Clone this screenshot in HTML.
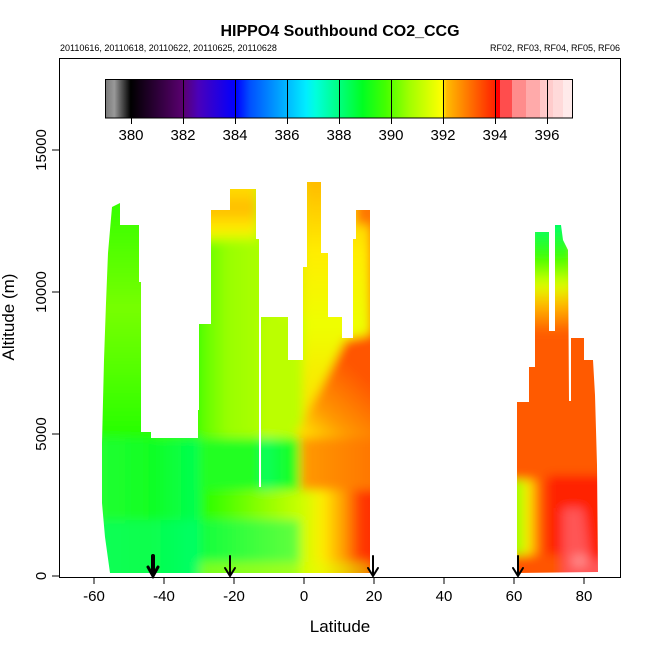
<!DOCTYPE html>
<html><head><meta charset="utf-8"><style>body{margin:0;background:#fff}svg{display:block}</style></head>
<body>
<svg width="650" height="650" viewBox="0 0 650 650" xmlns="http://www.w3.org/2000/svg" font-family="Liberation Sans, sans-serif">
<defs>
<filter id="bl5" x="-10%" y="-10%" width="120%" height="120%"><feGaussianBlur stdDeviation="5"/></filter>
<linearGradient id="base" x1="100" x2="370" y1="0" y2="0" gradientUnits="userSpaceOnUse">
<stop offset="0" stop-color="#44ff00"/><stop offset="0.4" stop-color="#33ff00"/><stop offset="0.55" stop-color="#99ff00"/><stop offset="0.7" stop-color="#ccff00"/><stop offset="0.8" stop-color="#ffcc00"/><stop offset="0.9" stop-color="#ff8800"/><stop offset="1" stop-color="#ff5500"/></linearGradient>
<linearGradient id="lcol" x1="0" x2="0" y1="200" y2="440" gradientUnits="userSpaceOnUse">
<stop offset="0" stop-color="#33ff00"/><stop offset="0.45" stop-color="#77ff00"/><stop offset="0.7" stop-color="#55ff00"/><stop offset="1" stop-color="#22ff00"/></linearGradient>
<linearGradient id="bl" x1="100" x2="300" y1="0" y2="0" gradientUnits="userSpaceOnUse">
<stop offset="0" stop-color="#22ff33"/><stop offset="0.25" stop-color="#11ff22"/><stop offset="0.5" stop-color="#00ff55"/><stop offset="0.8" stop-color="#00ff66"/><stop offset="1" stop-color="#22ff11"/></linearGradient>
<linearGradient id="mid" x1="199" x2="256" y1="0" y2="0" gradientUnits="userSpaceOnUse">
<stop offset="0" stop-color="#55ff00"/><stop offset="0.5" stop-color="#99ff00"/><stop offset="1" stop-color="#aaff00"/></linearGradient>
<linearGradient id="midtop" x1="0" x2="0" y1="188" y2="240" gradientUnits="userSpaceOnUse">
<stop offset="0" stop-color="#ffdd00"/><stop offset="0.4" stop-color="#ffbb00"/><stop offset="0.8" stop-color="#ffee00"/><stop offset="1" stop-color="#ccff00"/></linearGradient>
<linearGradient id="yel" x1="0" x2="0" y1="182" y2="420" gradientUnits="userSpaceOnUse">
<stop offset="0" stop-color="#ffbb00"/><stop offset="0.3" stop-color="#ffee00"/><stop offset="0.6" stop-color="#eeff00"/><stop offset="1" stop-color="#ffdd00"/></linearGradient>
<linearGradient id="orng" x1="290" x2="345" y1="420" y2="360" gradientUnits="userSpaceOnUse">
<stop offset="0" stop-color="#ffdd00"/><stop offset="0.35" stop-color="#ff9900"/><stop offset="1" stop-color="#ff5500"/></linearGradient>
<linearGradient id="row" x1="260" x2="370" y1="0" y2="0" gradientUnits="userSpaceOnUse">
<stop offset="0" stop-color="#eeff00"/><stop offset="0.2" stop-color="#ffcc00"/><stop offset="0.4" stop-color="#ff9900"/><stop offset="1" stop-color="#ff7700"/></linearGradient>
<linearGradient id="bot" x1="200" x2="370" y1="0" y2="0" gradientUnits="userSpaceOnUse">
<stop offset="0" stop-color="#22ff00"/><stop offset="0.35" stop-color="#88ff00"/><stop offset="0.6" stop-color="#ccff00"/><stop offset="0.72" stop-color="#ffee00"/><stop offset="0.85" stop-color="#ff9900"/><stop offset="0.95" stop-color="#ff3300"/><stop offset="1" stop-color="#ff3300"/></linearGradient>
<linearGradient id="ntop" x1="0" x2="0" y1="225" y2="335" gradientUnits="userSpaceOnUse">
<stop offset="0" stop-color="#00ff66"/><stop offset="0.3" stop-color="#44ff00"/><stop offset="0.55" stop-color="#ddff00"/><stop offset="0.72" stop-color="#ffbb00"/><stop offset="1" stop-color="#ff5500"/></linearGradient>
<linearGradient id="nleft" x1="517" x2="545" y1="0" y2="0" gradientUnits="userSpaceOnUse">
<stop offset="0" stop-color="#99ff00"/><stop offset="0.4" stop-color="#ffee00"/><stop offset="0.7" stop-color="#ff8800"/><stop offset="1" stop-color="#ff3300"/></linearGradient>
<linearGradient id="cb" x1="105" x2="573" y1="0" y2="0" gradientUnits="userSpaceOnUse">
<stop offset="0" stop-color="#777"/><stop offset="0.02" stop-color="#999"/><stop offset="0.035" stop-color="#555"/><stop offset="0.055" stop-color="#000"/><stop offset="0.167" stop-color="#5a0070"/><stop offset="0.2" stop-color="#4a00bb"/><stop offset="0.28" stop-color="#0000ff"/><stop offset="0.31" stop-color="#0050ff"/><stop offset="0.43" stop-color="#00eeff"/><stop offset="0.45" stop-color="#00ffdd"/><stop offset="0.55" stop-color="#00ff22"/><stop offset="0.6" stop-color="#44ff00"/><stop offset="0.65" stop-color="#a0ff00"/><stop offset="0.72" stop-color="#ffff00"/><stop offset="0.73" stop-color="#ffbb00"/><stop offset="0.833" stop-color="#ff2200"/><stop offset="1" stop-color="#ff2200"/></linearGradient>
<clipPath id="sc"><polygon points="112,207 120,203 120,225 139,225 139,282 141,282 141,432 151,432 151,438 198,438 198,410 199,410 199,324 211,324 211,210 230,210 230,189 256,189 256,239 259,239 259,487 261,487 261,317 288,317 288,360 303,360 303,267 307,267 307,182 321,182 321,253 328,253 328,317 342,317 342,338 353,338 353,239 356,239 356,210 370,210 370,573 110,573 105,537 102,503 102,443 104,360 106,303 108,253"/></clipPath>
<clipPath id="nc"><polygon points="517,573 517,402 529,402 529,367 535,367 535,232 549,232 549,331 555,331 555,225 561,225 563,240 568,250 569,401 571,401 571,338 584,338 584,360 593,360 595,395 597,465 598,572"/></clipPath>
</defs>
<text x="340" y="36" font-size="16" font-weight="bold" text-anchor="middle">HIPPO4 Southbound CO2_CCG</text>
<text x="60" y="51" font-size="9">20110616, 20110618, 20110622, 20110625, 20110628</text>
<text x="620" y="51" font-size="9" text-anchor="end">RF02, RF03, RF04, RF05, RF06</text>
<!-- colorbar -->
<rect x="105" y="79" width="468" height="39" fill="url(#cb)"/>
<rect x="495" y="79" width="5" height="39" fill="#ff0000"/>
<rect x="500" y="79" width="12" height="39" fill="#ff4d4d"/>
<rect x="512" y="79" width="14" height="39" fill="#ff8c8c"/>
<rect x="526" y="79" width="14" height="39" fill="#ffaaaa"/>
<rect x="540" y="79" width="5" height="39" fill="#ffc8c8"/>
<rect x="545" y="79" width="8" height="39" fill="#ffcccc"/>
<rect x="553" y="79" width="10" height="39" fill="#ffdada"/>
<rect x="563" y="79" width="10" height="39" fill="#ffeaea"/>
<g stroke="#000" stroke-width="1">
<line x1="183.5" y1="79" x2="183.5" y2="118"/><line x1="235.5" y1="79" x2="235.5" y2="118"/><line x1="287.5" y1="79" x2="287.5" y2="118"/><line x1="339.5" y1="79" x2="339.5" y2="118"/><line x1="391.5" y1="79" x2="391.5" y2="118"/><line x1="443.5" y1="79" x2="443.5" y2="118"/><line x1="495.5" y1="79" x2="495.5" y2="118"/><line x1="547.5" y1="79" x2="547.5" y2="118"/>
<line x1="131.5" y1="118" x2="131.5" y2="124"/><line x1="183.5" y1="118" x2="183.5" y2="124"/><line x1="235.5" y1="118" x2="235.5" y2="124"/><line x1="287.5" y1="118" x2="287.5" y2="124"/><line x1="339.5" y1="118" x2="339.5" y2="124"/><line x1="391.5" y1="118" x2="391.5" y2="124"/><line x1="443.5" y1="118" x2="443.5" y2="124"/><line x1="495.5" y1="118" x2="495.5" y2="124"/><line x1="547.5" y1="118" x2="547.5" y2="124"/>
</g>
<rect x="105.5" y="79.5" width="467" height="38.5" fill="none" stroke="#000"/>
<g font-size="15" text-anchor="middle">
<text x="131" y="140">380</text><text x="183" y="140">382</text><text x="235" y="140">384</text><text x="287" y="140">386</text><text x="339" y="140">388</text><text x="391" y="140">390</text><text x="443" y="140">392</text><text x="495" y="140">394</text><text x="547" y="140">396</text>
</g>
<!-- south -->
<g clip-path="url(#sc)"><g filter="url(#bl5)">
<rect x="80" y="150" width="310" height="440" fill="url(#base)"/>
<rect x="80" y="180" width="75" height="260" fill="url(#lcol)"/>
<rect x="199" y="240" width="58" height="200" fill="url(#mid)"/>
<rect x="199" y="175" width="58" height="66" fill="url(#midtop)"/>
<rect x="261" y="317" width="42" height="125" fill="#bbff00"/>
<rect x="303" y="170" width="67" height="270" fill="url(#yel)"/>
<polygon points="290,445 320,390 345,340 390,330 390,490 290,490" fill="url(#orng)"/>
<rect x="356" y="195" width="34" height="30" fill="#ff7700"/>
<rect x="260" y="438" width="130" height="52" fill="url(#row)"/>
<rect x="80" y="438" width="220" height="150" fill="url(#bl)"/>
<rect x="199" y="438" width="61" height="52" fill="#22ff22"/>
<rect x="200" y="490" width="190" height="100" fill="url(#bot)"/>
<rect x="80" y="520" width="220" height="70" fill="#00ff77" opacity="0.5"/>
<rect x="200" y="562" width="170" height="20" fill="#ddff00" opacity="0.5"/>
</g></g>
<line x1="260" y1="317" x2="260" y2="487" stroke="#fff" stroke-width="2"/>
<!-- north -->
<g clip-path="url(#nc)"><g filter="url(#bl5)">
<rect x="500" y="210" width="115" height="380" fill="#ff5a00"/>
<rect x="525" y="210" width="50" height="125" fill="url(#ntop)"/>
<rect x="548" y="475" width="60" height="110" fill="#ff2200"/>
<rect x="505" y="480" width="42" height="80" fill="url(#nleft)"/>
<rect x="505" y="555" width="57" height="30" fill="#ff5500"/>
<polygon points="563,508 583,508 585,520 590,560 610,560 610,585 563,585" fill="#ff5555"/>
<rect x="572" y="555" width="15" height="12" fill="#ff8888"/>
</g></g>
<!-- axes frame -->
<rect x="59.5" y="58.5" width="561" height="519" fill="none" stroke="#000"/>
<g stroke="#000">
<line x1="94" y1="577" x2="94" y2="584"/><line x1="164" y1="577" x2="164" y2="584"/><line x1="234" y1="577" x2="234" y2="584"/><line x1="304" y1="577" x2="304" y2="584"/><line x1="374" y1="577" x2="374" y2="584"/><line x1="444" y1="577" x2="444" y2="584"/><line x1="514" y1="577" x2="514" y2="584"/><line x1="584" y1="577" x2="584" y2="584"/>
<line x1="52" y1="576" x2="59" y2="576"/><line x1="52" y1="434" x2="59" y2="434"/><line x1="52" y1="292" x2="59" y2="292"/><line x1="52" y1="150" x2="59" y2="150"/>
</g>
<g font-size="15" text-anchor="middle">
<text transform="translate(46,576) rotate(-90)">0</text>
<text transform="translate(46,434) rotate(-90)">5000</text>
<text transform="translate(46,292) rotate(-90)">10000</text>
<text transform="translate(46,150) rotate(-90)">15000</text>
</g>
<g font-size="15" text-anchor="middle">
<text x="94" y="601">-60</text><text x="164" y="601">-40</text><text x="234" y="601">-20</text><text x="304" y="601">0</text><text x="374" y="601">20</text><text x="444" y="601">40</text><text x="514" y="601">60</text><text x="584" y="601">80</text>
</g>
<text x="340" y="632" font-size="17" text-anchor="middle">Latitude</text>
<text transform="translate(14,317) rotate(-90)" font-size="17" text-anchor="middle">Altitude (m)</text>
<!-- arrows -->
<g stroke="#000" fill="none" stroke-linecap="round">
<line x1="153" y1="556" x2="153" y2="574" stroke-width="4"/><polyline points="148,567 153,576 158,567" stroke-width="3"/>
<line x1="230" y1="556" x2="230" y2="575" stroke-width="2"/><polyline points="225,568 230,576 235,568" stroke-width="2"/>
<line x1="373" y1="556" x2="373" y2="575" stroke-width="2"/><polyline points="368,568 373,576 378,568" stroke-width="2"/>
<line x1="518" y1="556" x2="518" y2="575" stroke-width="2"/><polyline points="513,568 518,576 523,568" stroke-width="2"/>
</g>
</svg>
</body></html>
